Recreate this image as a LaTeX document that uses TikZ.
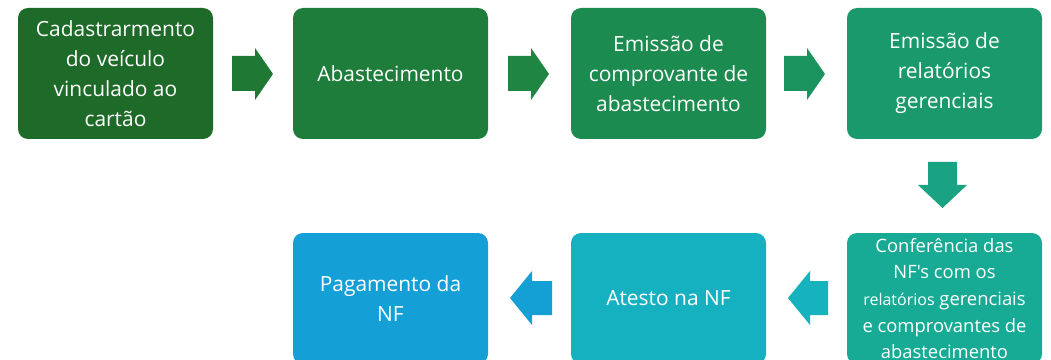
\documentclass[tikz,border=0pt]{standalone}
\usepackage{fontspec}
\setmainfont{Open Sans}[Ligatures=TeXOff]
\definecolor{cA}{HTML}{1E6A28}
\definecolor{aA}{HTML}{1F7833}
\definecolor{cB}{HTML}{1E7D3A}
\definecolor{aB}{HTML}{1E8543}
\definecolor{cC}{HTML}{1C8B50}
\definecolor{aC}{HTML}{1B935E}
\definecolor{cD}{HTML}{1A9A6C}
\definecolor{aD}{HTML}{19A382}
\definecolor{cE}{HTML}{17AA95}
\definecolor{aE}{HTML}{16B2BD}
\definecolor{cF}{HTML}{16B1C1}
\definecolor{aF}{HTML}{14A0D5}
\definecolor{cG}{HTML}{149FD7}
\tikzset{
  stepbox/.style={rounded corners=7.5pt, minimum width=146.25pt, minimum height=98.25pt,
    inner sep=0pt, text=white, align=center, font=\fontsize{15.7}{22.5}\selectfont},
  smallbox/.style={stepbox, font=\fontsize{13.8}{20}\selectfont}
}
\begin{document}
\begin{tikzpicture}[x=0.75pt,y=-0.75pt]
\useasboundingbox (0,0) rectangle (1051,360);
\clip (0,0) rectangle (1051,360);
% top row
\node[stepbox, fill=cA] (b1) at (115.5,73.5) {Cadastrarmento\\do veículo\\vinculado ao\\cartão};
\node[stepbox, fill=cB] (b2) at (390.5,73.5) {Abastecimento};
\node[stepbox, fill=cC] (b3) at (668.5,73.5) {Emissão de\\comprovante de\\abastecimento};
\node[stepbox, fill=cD] (b4) at (944.5,73.5) {Emissão de\\relatórios\\gerenciais};
% bottom row
\node[smallbox, fill=cE] (b7) at (944.5,298.5) {Conferência das\\NF's com os\\{\fontsize{12}{20}\selectfont relatórios} gerenciais\\e comprovantes de\\abastecimento};
\node[stepbox, fill=cF] (b6) at (668.5,298.5) {Atesto na NF};
\node[stepbox, fill=cG] (b5) at (390.5,298.5) {Pagamento da\\NF};
% right arrows
\fill[aA] (232,56) -- (255,56) -- (255,48) -- (273,74) -- (255,100) -- (255,91) -- (232,91) -- cycle;
\fill[aB] (508,56) -- (531,56) -- (531,48) -- (549,74) -- (531,100) -- (531,91) -- (508,91) -- cycle;
\fill[aC] (784,56) -- (807,56) -- (807,48) -- (825,74) -- (807,100) -- (807,91) -- (784,91) -- cycle;
% down arrow
\fill[aD] (928,162) -- (957,162) -- (957,185) -- (967,185) -- (942.5,208) -- (918,185) -- (928,185) -- cycle;
% left arrows
\fill[aE] (828,281) -- (810,281) -- (810,271) -- (788,298) -- (810,325) -- (810,315) -- (828,315) -- cycle;
\fill[aF] (552,281) -- (532,281) -- (532,271) -- (510,298) -- (532,325) -- (532,315) -- (552,315) -- cycle;
\end{tikzpicture}
\end{document}
